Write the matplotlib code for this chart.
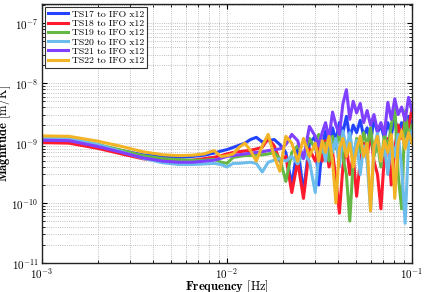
import numpy as np
import matplotlib
matplotlib.use("Agg")
import matplotlib.pyplot as plt

plt.rcParams['font.family'] = 'serif'
plt.rcParams['font.serif'] = ['cmr10', 'DejaVu Serif']
plt.rcParams['mathtext.fontset'] = 'cm'
plt.rcParams['axes.unicode_minus'] = False
plt.rcParams['axes.formatter.use_mathtext'] = True

# frequency points [Hz]
freq = [0.0010, 0.0014, 0.0020, 0.0027, 0.0035, 0.0045, 0.0055, 0.0065, 0.0075, 0.0085, 0.0093,
        0.0100, 0.0108, 0.0116, 0.0125, 0.0134, 0.0144, 0.0155, 0.0167, 0.0180, 0.0193,
        0.0208, 0.0224, 0.0241, 0.0259, 0.0279, 0.0300,
        0.0313, 0.0327, 0.0341, 0.0356, 0.0372, 0.0388, 0.0405, 0.0423, 0.0442, 0.0461,
        0.0481, 0.0502, 0.0525, 0.0548, 0.0572, 0.0597, 0.0623, 0.0651, 0.0679, 0.0709,
        0.0740, 0.0773, 0.0807, 0.0842, 0.0879, 0.0918, 0.0958, 0.1000]

# magnitudes in units of 1e-9 m/K
ts17 = [1.08, 1.06, 0.90, 0.75, 0.64, 0.59, 0.58, 0.60, 0.63, 0.68, 0.74,
        0.78, 0.85, 0.92, 1.00, 1.15, 1.25, 1.05, 1.10, 1.15, 0.95,
        0.70, 0.20, 0.90, 0.15, 1.00, 1.30,
        0.20, 0.90, 1.60, 0.60, 1.80, 1.10, 2.20, 1.50, 2.80, 1.20,
        2.00, 1.50, 2.40, 1.30, 1.80, 1.00, 2.60, 1.50, 2.00, 1.20,
        2.20, 1.40, 2.50, 1.60, 2.20, 1.30, 2.80, 2.00]
ts18 = [1.02, 1.00, 0.82, 0.66, 0.55, 0.50, 0.50, 0.52, 0.55, 0.58, 0.62,
        0.66, 0.70, 0.72, 0.74, 0.76, 0.80, 0.85, 1.20, 0.90, 0.50,
        0.60, 0.15, 0.50, 0.12, 0.80, 0.50,
        0.90, 0.50, 1.10, 0.40, 0.70, 0.25, 0.068, 0.40, 0.90, 0.30,
        0.60, 0.13, 0.50, 1.00, 0.60, 1.50, 0.50, 0.30, 0.08, 0.60,
        1.20, 0.20, 0.80, 2.00, 1.20, 2.50, 1.80, 3.80]
ts19 = [1.18, 1.16, 0.95, 0.76, 0.62, 0.55, 0.53, 0.52, 0.52, 0.54, 0.48,
        0.46, 0.58, 0.60, 0.62, 0.62, 0.63, 0.64, 0.66, 0.70, 0.55,
        0.23, 0.70, 0.90, 0.60, 1.20, 0.80,
        1.40, 0.70, 1.00, 0.50, 1.30, 0.80, 1.60, 0.60, 0.30, 0.05,
        0.50, 1.20, 0.70, 1.50, 0.90, 1.80, 0.60, 1.00, 0.40, 1.40,
        0.80, 2.00, 4.50, 0.30, 0.08, 3.50, 1.20, 2.00]
ts20 = [1.22, 1.20, 0.95, 0.72, 0.56, 0.47, 0.44, 0.44, 0.45, 0.46, 0.44,
        0.40, 0.46, 0.46, 0.47, 0.48, 0.46, 0.33, 0.48, 0.52, 0.55,
        0.50, 0.60, 0.45, 0.70, 0.50, 0.15,
        0.60, 1.00, 0.50, 1.50, 0.70, 1.20, 0.40, 1.60, 0.80, 1.50,
        0.60, 1.10, 0.30, 0.90, 0.50, 0.074, 0.80, 1.50, 0.50, 0.90,
        0.30, 1.20, 0.60, 1.40, 0.40, 0.046, 1.00, 1.60]
ts21 = [1.12, 1.10, 0.88, 0.70, 0.57, 0.50, 0.48, 0.48, 0.50, 0.52, 0.56,
        0.60, 0.62, 0.64, 0.66, 0.68, 0.70, 0.72, 0.75, 0.78, 0.80,
        0.95, 1.40, 1.10, 0.55, 1.90, 1.30,
        0.90, 1.50, 2.20, 1.20, 3.30, 2.00, 1.40, 4.50, 7.80, 2.50,
        5.00, 3.20, 4.60, 2.20, 3.50, 2.00, 3.00, 1.60, 2.20, 1.40,
        4.80, 2.50, 5.50, 3.00, 4.00, 2.40, 5.80, 3.50]
ts22 = [1.32, 1.30, 1.08, 0.88, 0.72, 0.64, 0.62, 0.63, 0.66, 0.75, 0.60,
        0.62, 0.66, 0.85, 1.00, 0.75, 0.50, 0.90, 1.40, 0.60, 0.34,
        1.30, 1.00, 0.50, 1.20, 0.60, 1.00,
        0.50, 1.10, 0.70, 1.30, 0.50, 0.10, 0.80, 1.20, 0.60, 1.00,
        0.40, 0.80, 1.30, 0.60, 1.00, 0.074, 0.90, 1.30, 0.50, 1.10,
        0.70, 1.40, 0.12, 1.00, 1.60, 0.80, 1.50, 1.00]

series = [ts17, ts18, ts19, ts20, ts21, ts22]
labels = ['TS17 to IFO x12', 'TS18 to IFO x12', 'TS19 to IFO x12',
          'TS20 to IFO x12', 'TS21 to IFO x12', 'TS22 to IFO x12']
colors = ['#2244ff', '#ff1a2e', '#66b844', '#6cbcec', '#8040ff', '#f2b324']

fig = plt.figure(figsize=(4.25, 2.92), dpi=100)
ax = fig.add_axes([42 / 425, 29 / 292, 370 / 425, 259 / 292])

f = np.array(freq)
for vals, lab, col in zip(series, labels, colors):
    ax.loglog(f, np.array(vals) * 1e-9, color=col, lw=2.2, label=lab)

ax.set_xlim(1e-3, 1e-1)
ax.set_ylim(1e-11, 2.1e-7)
ax.grid(True, which='both', ls=':', color='#aaaaaa', lw=0.6)
ax.tick_params(which='both', direction='in', labelsize=8, top=True, right=True, pad=2.5)
for s in ax.spines.values():
    s.set_linewidth(1.0)
    s.set_color('#222222')

ax.set_xlabel(r'$\mathbf{Frequency}$ [Hz]', fontsize=9)
ax.set_ylabel(r'$\mathbf{Magnitude}$ [m/K]', fontsize=9)
# label anchors: top edge for x, right edge for y
ax.xaxis.set_label_coords(0.5, -0.058)
ax.yaxis.set_label_coords(-0.078, 0.5)

leg = ax.legend(loc='upper left', fontsize=7, handlelength=2.1, labelspacing=0.05,
                borderpad=0.3, handletextpad=0.4, fancybox=False, framealpha=1,
                borderaxespad=0.3)
leg.get_frame().set_edgecolor('#333333')
leg.get_frame().set_linewidth(0.8)

fig.savefig('out.png', dpi=100)
